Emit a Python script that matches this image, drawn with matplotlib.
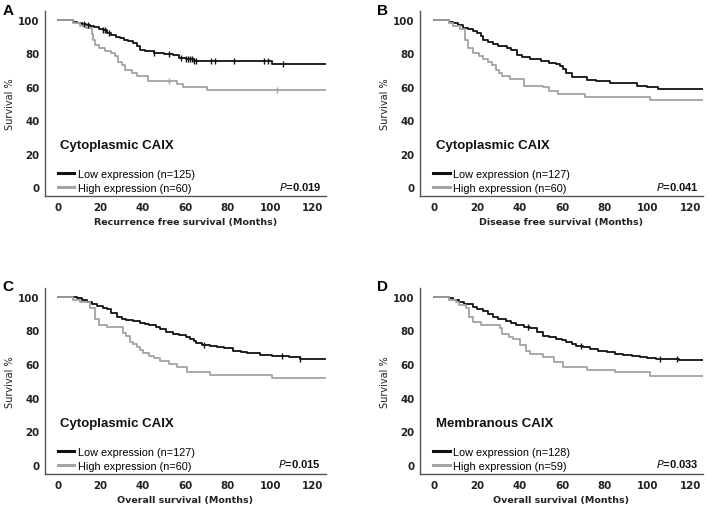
import numpy as np
import matplotlib
matplotlib.use("Agg")
import matplotlib.pyplot as plt

# =============================================================================
# DATOS
# =============================================================================
paneles = ['A', 'B', 'C', 'D']
titulos = ['Cytoplasmic CAIX', 'Cytoplasmic CAIX', 'Cytoplasmic CAIX', 'Membranous CAIX']
xlabels = ['Recurrence free survival (Months)', 'Disease free survival (Months)',
           'Overall survival (Months)', 'Overall survival (Months)']
labels_low = ['Low expression (n=125)', 'Low expression (n=127)',
              'Low expression (n=127)', 'Low expression (n=128)']
labels_high = ['High expression (n=60)', 'High expression (n=60)',
               'High expression (n=60)', 'High expression (n=59)']
pvalores = ['0.019', '0.041', '0.015', '0.033']

# A - recurrence free survival
a_low_t = [0, 7, 9, 11, 13, 15, 17, 19, 21, 23, 25, 27, 29, 31, 33, 35, 37, 38.5, 41, 45,
           50, 54, 57, 60, 64, 101, 126.5]
a_low_s = [100, 99, 98, 97.4, 96.8, 96.2, 95.6, 94.8, 94, 92.5, 91, 90, 89, 88, 87.5, 86.5,
           84.5, 82, 81.5, 80, 79.5, 79, 77.5, 76.5, 75.5, 73.5, 73.5]
a_low_cens = [12, 14, 21, 22, 24, 45, 52, 58, 60, 61, 62, 63, 64, 65, 72, 74, 83, 97, 99, 106]
a_high_t = [0, 7, 10, 13, 15.8, 16.5, 17.3, 19, 22, 25, 26.8, 28.3, 29.9, 31.5, 34.6, 37,
            42.5, 56, 59, 70, 126.5]
a_high_s = [100, 98.3, 96.7, 95, 91.7, 88.3, 85, 83.3, 81.7, 80, 78.3, 75, 73.3, 70, 68.3,
            66.7, 63.3, 61.7, 60, 58.3, 58.3]
a_high_cens = [52, 103]

# B - disease free survival
b_low_t = [0, 7, 9, 11, 13.6, 16, 18, 20, 22, 23, 25, 27.7, 30, 34, 36, 38.6, 41, 45, 50, 54,
           57, 59, 60.5, 62, 64.6, 71.5, 76, 82.5, 95, 100, 105, 126]
b_low_s = [100, 99, 98, 97, 95.5, 94.5, 93.5, 92.5, 90.5, 88, 87, 85.5, 84.5, 83.5, 82, 79,
           78, 76.5, 75.5, 74.5, 73.5, 72.5, 70.5, 68, 66, 64.3, 63.7, 62.1, 60.7, 59.7, 58.7, 58.7]
b_low_cens = []
b_high_t = [0, 7, 9, 12, 14.4, 16, 18.3, 21, 23, 25, 27, 29, 30.5, 32, 35.5, 42, 51, 54, 58,
            70.7, 101, 126]
b_high_s = [100, 98.3, 96.7, 94.4, 88.3, 83.3, 80, 78.3, 76.7, 75, 73.3, 70, 68.3, 66.7, 64.6,
            60.6, 59.6, 57.6, 55.7, 53.7, 52, 52]
b_high_cens = []

# C - overall survival (citoplasmatico)
c_low_t = [0, 8.6, 11, 13.4, 16, 18, 21, 22.8, 25, 27.5, 30, 32, 35, 38.5, 41, 43, 46, 48, 51,
           54, 57, 60, 62, 64, 65, 68, 71.5, 75, 78, 82.5, 86, 89, 95, 101, 109, 114, 126]
c_low_s = [100, 99, 98, 96.6, 95.5, 94.2, 93.5, 92.7, 90.5, 87.7, 87, 86.3, 85.5, 84.3, 83.5,
           83.1, 82, 80.8, 78.8, 78, 77.2, 76, 74.8, 73.5, 72.2, 71.5, 70.8, 70, 69.2, 67.8, 67,
           66.5, 65.3, 64.5, 63.9, 62.9, 62.9]
c_low_cens = [68.5, 105.5, 114]
c_high_t = [0, 7, 10, 15, 17.3, 19, 23, 30.7, 32, 33.8, 35, 37, 38.5, 40, 43, 45, 48, 52, 56,
            60.5, 71.5, 101, 126]
c_high_s = [100, 98.3, 96.7, 93.3, 86.7, 83.3, 81.7, 78.3, 76.7, 73.3, 71.7, 70, 68.3, 66.7,
            65, 63.3, 61.7, 60, 58.3, 55, 53.3, 51.7, 51.7]
c_high_cens = []

# D - overall survival (membranoso)
d_low_t = [0, 7, 9, 11.8, 14, 18, 20, 22.7, 25, 27.5, 30, 33.7, 36, 38.4, 42, 44.7, 48, 51, 54,
           57, 60, 62, 64.5, 66.7, 70, 73, 77, 81, 85, 88.6, 93, 96.5, 100, 104, 115, 126]
d_low_s = [100, 99, 98, 96.6, 95.5, 93.7, 92.7, 91.7, 89.7, 87.7, 86.7, 85.7, 84.3, 83.1, 82,
           81.2, 79, 76.8, 76, 74.8, 74, 72.8, 71.8, 70.8, 69.8, 68.8, 67.8, 66.9, 66, 65.3,
           64.8, 64.3, 63.5, 62.9, 62.3, 62.3]
d_low_cens = [44, 69, 106, 114]
d_high_t = [0, 7, 10, 11.8, 15, 16.5, 18, 22, 30.6, 32, 35, 37, 40, 43, 45, 51, 56, 60.6, 71.5,
            84.8, 101, 126]
d_high_s = [100, 98.3, 96.6, 95, 93.2, 88.1, 84.7, 83.1, 81.4, 78, 76.3, 74.6, 71.2, 67.8,
            66.1, 64.4, 61, 58.3, 56.4, 55, 53, 53]
d_high_cens = []

curvas = [
    (a_low_t, a_low_s, a_low_cens, a_high_t, a_high_s, a_high_cens),
    (b_low_t, b_low_s, b_low_cens, b_high_t, b_high_s, b_high_cens),
    (c_low_t, c_low_s, c_low_cens, c_high_t, c_high_s, c_high_cens),
    (d_low_t, d_low_s, d_low_cens, d_high_t, d_high_s, d_high_cens),
]

# posiciones de los ejes en la figura [left, bottom, width, height]
posiciones = [
    [0.0635, 0.6133, 0.3963, 0.3635],
    [0.5924, 0.6133, 0.3992, 0.3635],
    [0.0635, 0.0686, 0.3963, 0.3657],
    [0.5924, 0.0686, 0.3992, 0.3657],
]
xlims = [(-6.3, 126.3), (-6.7, 126.1), (-6.3, 126.3), (-6.7, 126.1)]

NEGRO = '#111111'
GRIS = '#a3a3a3'
SPINE = '#555555'


def valor_en(t, s, x):
    """valor de la curva escalonada en el tiempo x"""
    idx = np.searchsorted(t, x, side='right') - 1
    return np.array(s)[idx]


fig = plt.figure(figsize=(7.09, 5.10), dpi=100)

for i in range(4):
    ax = fig.add_axes(posiciones[i])
    lt, ls, lc, ht, hs, hc = curvas[i]

    l1, = ax.step(lt, ls, where='post', color=NEGRO, lw=1.3, label=labels_low[i])
    l2, = ax.step(ht, hs, where='post', color=GRIS, lw=1.3, label=labels_high[i])
    if lc:
        ax.plot(lc, valor_en(lt, ls, lc), '|', color=NEGRO, ms=4.5, mew=1)
    if hc:
        ax.plot(hc, valor_en(ht, hs, hc), '|', color=GRIS, ms=4.5, mew=1)

    ax.set_xlim(*xlims[i])
    ax.set_ylim(-5.5, 105.5)
    ax.set_xticks([0, 20, 40, 60, 80, 100, 120])
    ax.set_yticks([0, 20, 40, 60, 80, 100])
    for sp in ['top', 'right']:
        ax.spines[sp].set_visible(False)
    for sp in ['left', 'bottom']:
        ax.spines[sp].set_color(SPINE)
        ax.spines[sp].set_linewidth(1.0)
    ax.tick_params(length=0, pad=4, labelsize=7.4, colors='#222222')
    for lab in ax.get_xticklabels() + ax.get_yticklabels():
        lab.set_fontweight('bold')

    ax.set_xlabel(xlabels[i], fontsize=6.8, fontweight='bold', color='#222222', labelpad=4)
    ax.set_ylabel('Survival %', fontsize=7, color='#222222', labelpad=2)

    ax.text(1.0, 25, titulos[i], fontsize=9.5, fontweight='bold',
            family='Liberation Sans', va='center', ha='left', color='#111111')
    ax.text(124, 0.8, r'$\bf{\it{P}}$=' + pvalores[i], fontsize=8, fontweight='bold',
            family='Liberation Sans', va='center', ha='right', color='#111111')

    leg = ax.legend(handles=[l1, l2], loc='lower left', bbox_to_anchor=(0.02, -0.022),
                    frameon=False, handlelength=1.5, handletextpad=0.3,
                    labelspacing=0.32, borderpad=0.2,
                    prop={'family': 'Liberation Sans', 'size': 7.8})
    for ln in leg.get_lines():
        ln.set_linewidth(2.2)

    fig.text(posiciones[i][0] - 0.060, posiciones[i][1] + posiciones[i][3] + 0.016,
             paneles[i], fontsize=11, fontweight='bold', family='Liberation Sans',
             va='top', ha='left')

fig.savefig('out.png', dpi=100)
